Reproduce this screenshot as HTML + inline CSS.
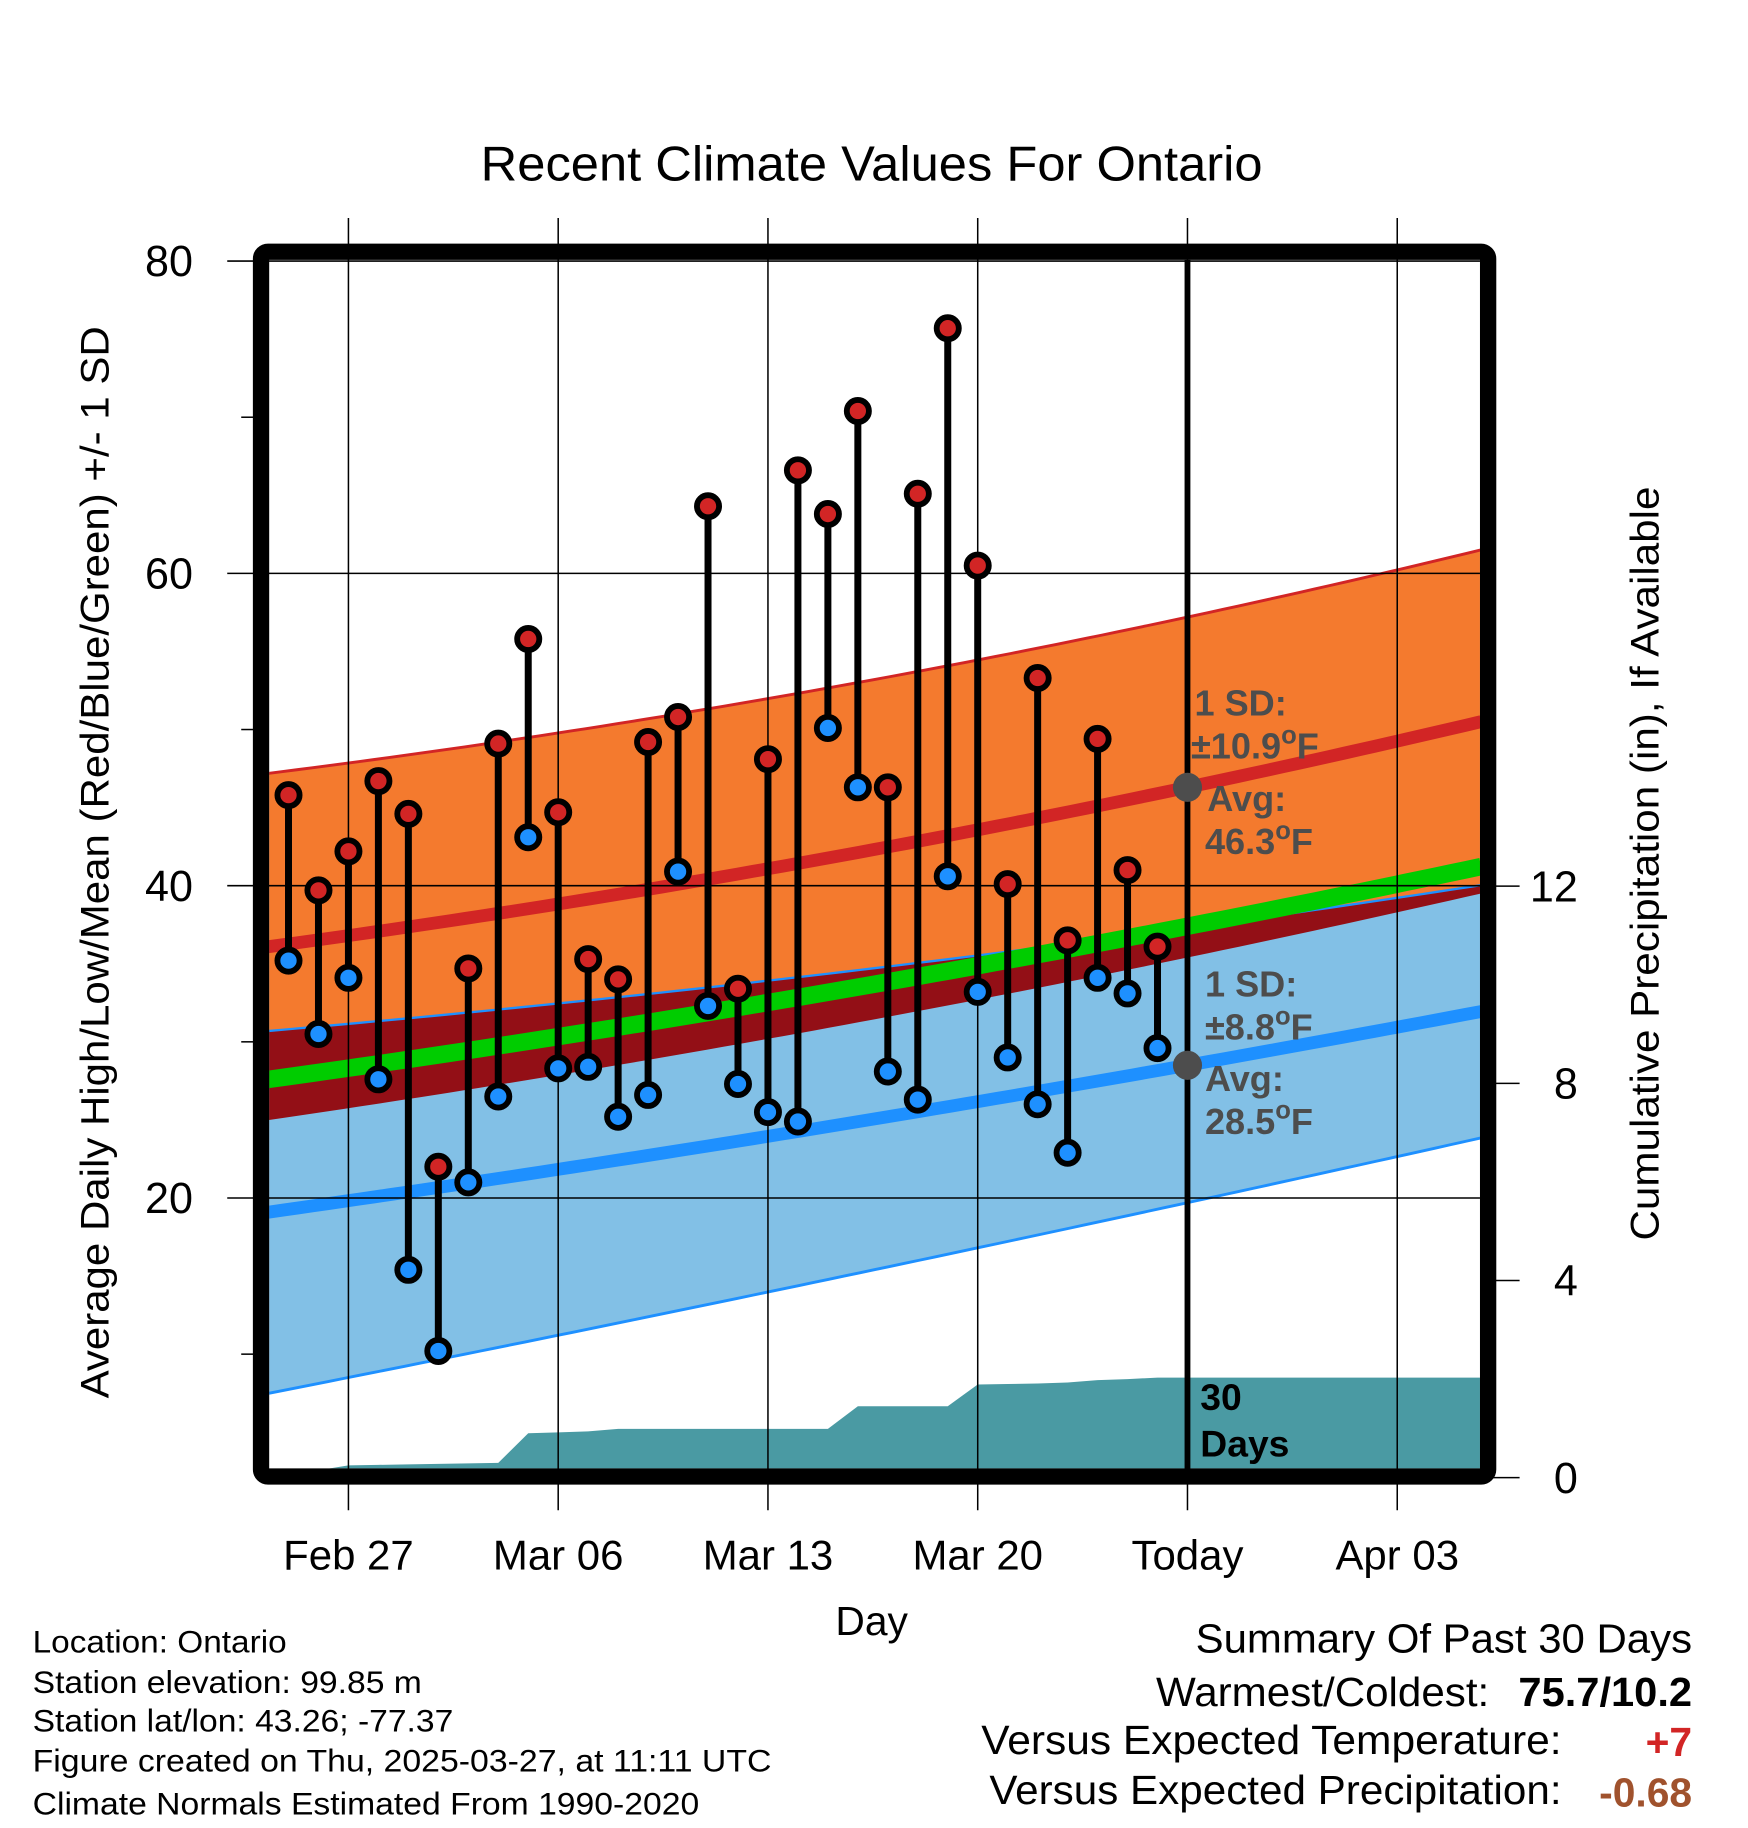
<!DOCTYPE html>
<html><head><meta charset="utf-8"><style>
html,body{margin:0;padding:0;background:#fff}
svg{display:block}
text{font-family:"Liberation Sans",Arial,sans-serif}
</style></head><body>
<svg id="chart" xmlns="http://www.w3.org/2000/svg" width="1748" height="1828" viewBox="0 0 1500 1568.6">
<defs><clipPath id="plotclip"><rect x="231" y="223" width="1039" height="1037"/></clipPath></defs>
<rect width="1500" height="1568.6" fill="#fff"/>
<text x="748" y="155" font-size="42" text-anchor="middle" textLength="671" lengthAdjust="spacingAndGlyphs">Recent Climate Values For Ontario</text>
<g id="plot" clip-path="url(#plotclip)"></g>
<g id="axes"></g>
<g id="marks"></g>
<rect x="224" y="216" width="1053" height="1051" rx="6" fill="none" stroke="#000" stroke-width="14"/>
<text transform="translate(93,740) rotate(-90)" font-size="34" text-anchor="middle" textLength="920" lengthAdjust="spacingAndGlyphs">Average Daily High/Low/Mean (Red/Blue/Green) +/- 1 SD</text>
<text transform="translate(1423,741) rotate(-90)" font-size="34" text-anchor="middle" textLength="647" lengthAdjust="spacingAndGlyphs">Cumulative Precipitation (in), If Available</text>
<text x="748" y="1403" font-size="35" text-anchor="middle">Day</text>
<g font-size="27">
<text x="28" y="1418" textLength="218" lengthAdjust="spacingAndGlyphs">Location: Ontario</text>
<text x="28" y="1453" textLength="334" lengthAdjust="spacingAndGlyphs">Station elevation: 99.85 m</text>
<text x="28" y="1486" textLength="361" lengthAdjust="spacingAndGlyphs">Station lat/lon: 43.26; -77.37</text>
<text x="28" y="1520" textLength="634" lengthAdjust="spacingAndGlyphs">Figure created on Thu, 2025-03-27, at 11:11 UTC</text>
<text x="28" y="1557" textLength="572" lengthAdjust="spacingAndGlyphs">Climate Normals Estimated From 1990-2020</text>
</g>
<g font-size="35">
<text x="1026" y="1418" textLength="426" lengthAdjust="spacingAndGlyphs">Summary Of Past 30 Days</text>
<text x="992" y="1464" textLength="286" lengthAdjust="spacingAndGlyphs">Warmest/Coldest:</text>
<text x="1303" y="1464" font-weight="bold" textLength="149" lengthAdjust="spacingAndGlyphs">75.7/10.2</text>
<text x="842" y="1505" textLength="498" lengthAdjust="spacingAndGlyphs">Versus Expected Temperature:</text>
<text x="1452" y="1507" text-anchor="end" font-weight="bold" fill="#d22525">+7</text>
<text x="849" y="1548" textLength="491" lengthAdjust="spacingAndGlyphs">Versus Expected Precipitation:</text>
<text x="1452" y="1550" text-anchor="end" font-weight="bold" fill="#a0522d">-0.68</text>
</g>
</svg>
<script>
// ---- data ----
const days = ["Feb 25","Feb 26","Feb 27","Feb 28","Mar 01","Mar 02","Mar 03","Mar 04","Mar 05","Mar 06","Mar 07","Mar 08","Mar 09","Mar 10","Mar 11","Mar 12","Mar 13","Mar 14","Mar 15","Mar 16","Mar 17","Mar 18","Mar 19","Mar 20","Mar 21","Mar 22","Mar 23","Mar 24","Mar 25","Mar 26"];
const highs = [45.8,39.7,42.2,46.7,44.6,22.0,34.7,49.1,55.8,44.7,35.3,34.0,49.2,50.8,64.3,33.4,48.1,66.6,63.8,70.4,46.3,65.1,75.7,60.5,40.1,53.3,36.5,49.4,41.0,36.1];
const lows = [35.2,30.5,34.1,27.6,15.4,10.2,21.0,26.5,43.1,28.3,28.4,25.2,26.6,40.9,32.3,27.3,25.5,24.9,50.1,46.3,28.1,26.3,40.6,33.2,29.0,26.0,22.9,34.1,33.1,29.6];
const precip = [0.0,0.15,0.25,0.26,0.27,0.28,0.29,0.30,0.90,0.92,0.94,0.99,0.99,0.99,0.99,0.99,0.99,0.99,0.99,1.45,1.45,1.45,1.45,1.89,1.90,1.91,1.93,1.98,2.00,2.03];
const normDays = [-0.64, 30, 39.68];
const normHigh = [36.1, 46.3, 50.45];
const sdHigh = [11.1, 10.9, 11.0];
const normLow = [19.1, 28.5, 31.9];
const sdLow = [11.6, 8.8, 8.1];
const xTickLabels = ["Feb 27","Mar 06","Mar 13","Mar 20","Today","Apr 03"];
const xTickDays = [2, 9, 16, 23, 30, 37];
const yTicks = [20, 40, 60, 80];
const yMinorTicks = [10, 30, 50, 70];
const pTicks = [0, 4, 8, 12];

// ---- scales ----
const X = d => 299 + (d - 2) * 180 / 7;
const Y = v => 224 + (80 - v) * 13.4;
const P = p => 1268 - p * 42.3;
const NS = "http://www.w3.org/2000/svg";
function mk(tag, attrs, parent) { const e = document.createElementNS(NS, tag); for (const k in attrs) e.setAttribute(k, attrs[k]); parent.appendChild(e); return e; }
function quad(arr, d) {
  const [x0,x1,x2] = normDays, [y0,y1,y2] = arr;
  return y0*(d-x1)*(d-x2)/((x0-x1)*(x0-x2)) + y1*(d-x0)*(d-x2)/((x1-x0)*(x1-x2)) + y2*(d-x0)*(d-x1)/((x2-x0)*(x2-x1));
}
const plot = document.getElementById('plot'), axes = document.getElementById('axes'), marks = document.getElementById('marks');
const samp = []; for (let i = 0; i <= 80; i++) samp.push(-0.7 + i * (39.8 + 0.7) / 80);
const hi = d => quad(normHigh, d), hs = d => quad(sdHigh, d), lo = d => quad(normLow, d), ls = d => quad(sdLow, d);
function band(top, bot, fill, name) {
  const pts = samp.map(d => X(d) + ',' + Y(top(d))).concat(samp.slice().reverse().map(d => X(d) + ',' + Y(bot(d))));
  const p = mk('polygon', {points: pts.join(' '), fill: fill}, plot);
  
  
}
function line(f, color, w, name) {
  const p = mk('polyline', {points: samp.map(d => X(d) + ',' + Y(f(d))).join(' '), fill: 'none', stroke: color, 'stroke-width': w}, plot);
  
  
}
band(d => hi(d) + hs(d), d => hi(d) - hs(d), '#f47a2e', 'high-sd-band');
band(d => lo(d) + ls(d), d => lo(d) - ls(d), '#82c0e6', 'low-sd-band');
band(d => lo(d) + ls(d), d => Math.min(lo(d) + ls(d), hi(d) - hs(d)), '#930f16', 'overlap-band');
line(d => hi(d) + hs(d), '#d22525', 2.5, 'high-upper-line');
line(d => lo(d) + ls(d), '#1e90ff', 2, 'low-upper-line');
line(d => lo(d) - ls(d), '#1e90ff', 2.5, 'low-lower-line');
line(d => (hi(d) + lo(d)) / 2, '#00cc00', 15, 'mean-line');
line(hi, '#d22525', 11, 'normal-high-line');
line(lo, '#1e90ff', 11, 'normal-low-line');

// precipitation area
{
  const pts = [X(-1) + ',' + P(0)];
  precip.forEach((v, i) => pts.push(X(i) + ',' + P(v)));
  pts.push(X(41) + ',' + P(precip[precip.length - 1]));
  pts.push(X(41) + ',' + P(0));
  const a = mk('polygon', {points: pts.join(' '), fill: '#4a9aa3'}, plot);
  
  
}
// grid
xTickDays.forEach((d, i) => {
  const g = mk('line', {x1: X(d), x2: X(d), y1: 187, y2: 1296, stroke: '#000', 'stroke-width': 1.3}, axes);
  
  
  const t = mk('text', {x: X(d), y: 1347, 'font-size': 36, 'text-anchor': 'middle'}, axes);
  t.textContent = xTickLabels[i];
  
  
});
yTicks.forEach(v => {
  const g = mk('line', {x1: 195, x2: 1270, y1: Y(v), y2: Y(v), stroke: '#000', 'stroke-width': 1.3}, axes);
  
  
  const t = mk('text', {x: 145, y: Y(v) + 13, 'font-size': 37, 'text-anchor': 'middle'}, axes);
  t.textContent = v;
  
  
});
yMinorTicks.forEach(v => {
  const g = mk('line', {x1: 207, x2: 220, y1: Y(v), y2: Y(v), stroke: '#000', 'stroke-width': 1.3}, axes);
  
  
});
pTicks.forEach(v => {
  const g = mk('line', {x1: 1280, x2: 1304, y1: P(v), y2: P(v), stroke: '#000', 'stroke-width': 1.3}, axes);
  
  
  const t = mk('text', {x: 1354, y: P(v) + 13, 'font-size': 37, 'text-anchor': 'end'}, axes);
  t.textContent = v;
  
  
});
// today line
{
  const t = mk('line', {x1: X(30), x2: X(30), y1: 223, y2: 1262, stroke: '#000', 'stroke-width': 5}, axes);
  
  
  const g = mk('text', {x: 1030, y: 1210, 'font-size': 32, 'font-weight': 'bold'}, axes);
  
  
  g.innerHTML = '<tspan x="1030">30</tspan><tspan x="1030" dy="40">Days</tspan>';
}
// daily stems & dots
highs.forEach((h, i) => {
  const l = lows[i], x = X(i);
  const s = mk('line', {x1: x, x2: x, y1: Y(h), y2: Y(l), stroke: '#000', 'stroke-width': 6}, marks);
  
  
  const c1 = mk('circle', {cx: x, cy: Y(h), r: 9.5, fill: '#d22525', stroke: '#000', 'stroke-width': 5}, marks);
  
  
  const c2 = mk('circle', {cx: x, cy: Y(l), r: 9.5, fill: '#1e90ff', stroke: '#000', 'stroke-width': 5}, marks);
  
  
});
// annotations at today
{
  const g = mk('g', {fill: '#4d4d4d', 'font-size': 31, 'font-weight': 'bold'}, marks);
  
  
  mk('circle', {cx: X(30), cy: Y(normHigh[1]), r: 12.5, fill: '#4d4d4d'}, g);
  mk('circle', {cx: X(30), cy: Y(normLow[1]), r: 12.5, fill: '#4d4d4d'}, g);
  const T = (x, y, html) => { const t = mk('text', {x: x, y: y}, g); t.innerHTML = html; };
  T(1025, 614, '1 SD:');
  T(1022, 651, '±' + sdHigh[1].toFixed(1) + '<tspan dy="-13" font-size="22">o</tspan><tspan dy="13">F</tspan>');
  T(1036, 696, 'Avg:');
  T(1034, 733, normHigh[1].toFixed(1) + '<tspan dy="-13" font-size="22">o</tspan><tspan dy="13">F</tspan>');
  T(1034, 855, '1 SD:');
  T(1034, 892, '±' + sdLow[1].toFixed(1) + '<tspan dy="-13" font-size="22">o</tspan><tspan dy="13">F</tspan>');
  T(1034, 936, 'Avg:');
  T(1034, 973, normLow[1].toFixed(1) + '<tspan dy="-13" font-size="22">o</tspan><tspan dy="13">F</tspan>');
}
</script>
</body></html>
